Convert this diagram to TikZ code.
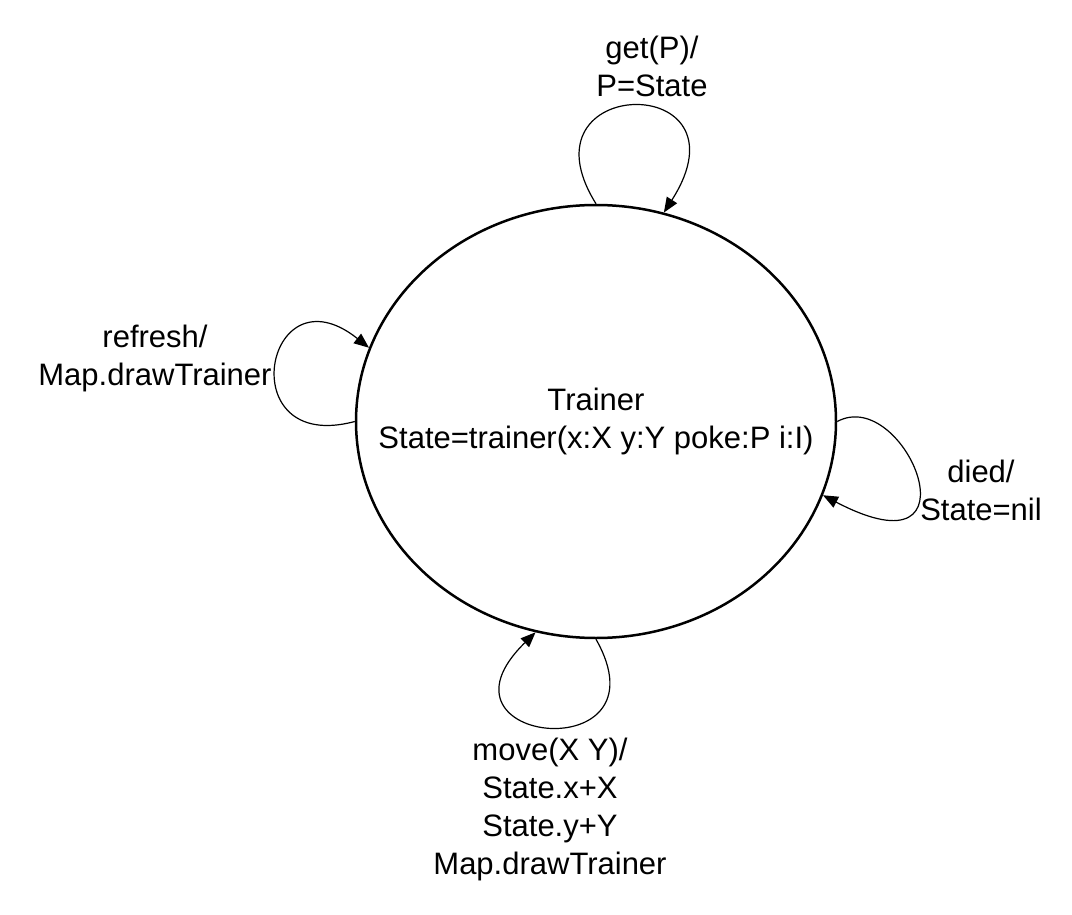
\documentclass[tikz,border=0pt]{standalone}
\usepackage{fontspec}
\setmainfont{Liberation Sans}
\usetikzlibrary{arrows.meta,shapes.geometric}

\begin{document}
\begin{tikzpicture}[x=0.5pt,y=-0.5pt]
	\tikzstyle{main}=[ellipse, draw=black, line width=1.25pt, inner sep=0pt, minimum width=240pt, minimum height=216.5pt]
	\tikzstyle{connect}=[-{Triangle[length=7.5pt,width=6pt]}, line width=0.6pt]
	\tikzstyle{txt}=[align=center, inner sep=0pt, font=\fontsize{15.5}{19}\selectfont]
	\useasboundingbox (0,0) rectangle (1072,915);
	\node[main] (trainer) at (596,421.5) [label={[txt]center:Trainer\\State=trainer(x:X y:Y poke:P i:I)}] {};
	\node[txt] (get) at (652,66) {get(P)/\\P=State};
	\node[txt] (refresh) at (155,358) {refresh/\\Map.drawTrainer};
	\node[txt] (died) at (981,490) {died/\\State=nil};
	\node[txt] (move) at (550,809) {move(X Y)/\\State.x+X\\State.y+Y\\Map.drawTrainer};
	\draw[connect] (trainer.90) .. controls (515,74) and (755,70) .. (trainer.72);
	\draw[connect] (trainer.180) .. controls (230,455) and (265,265) .. (trainer.162);
	\draw[connect] (trainer.0) .. controls (905,385) and (985,580) .. (trainer.-18);
	\draw[connect] (trainer.-90) .. controls (670,770) and (420,745) .. (trainer.-106);
\end{tikzpicture}
\end{document}
